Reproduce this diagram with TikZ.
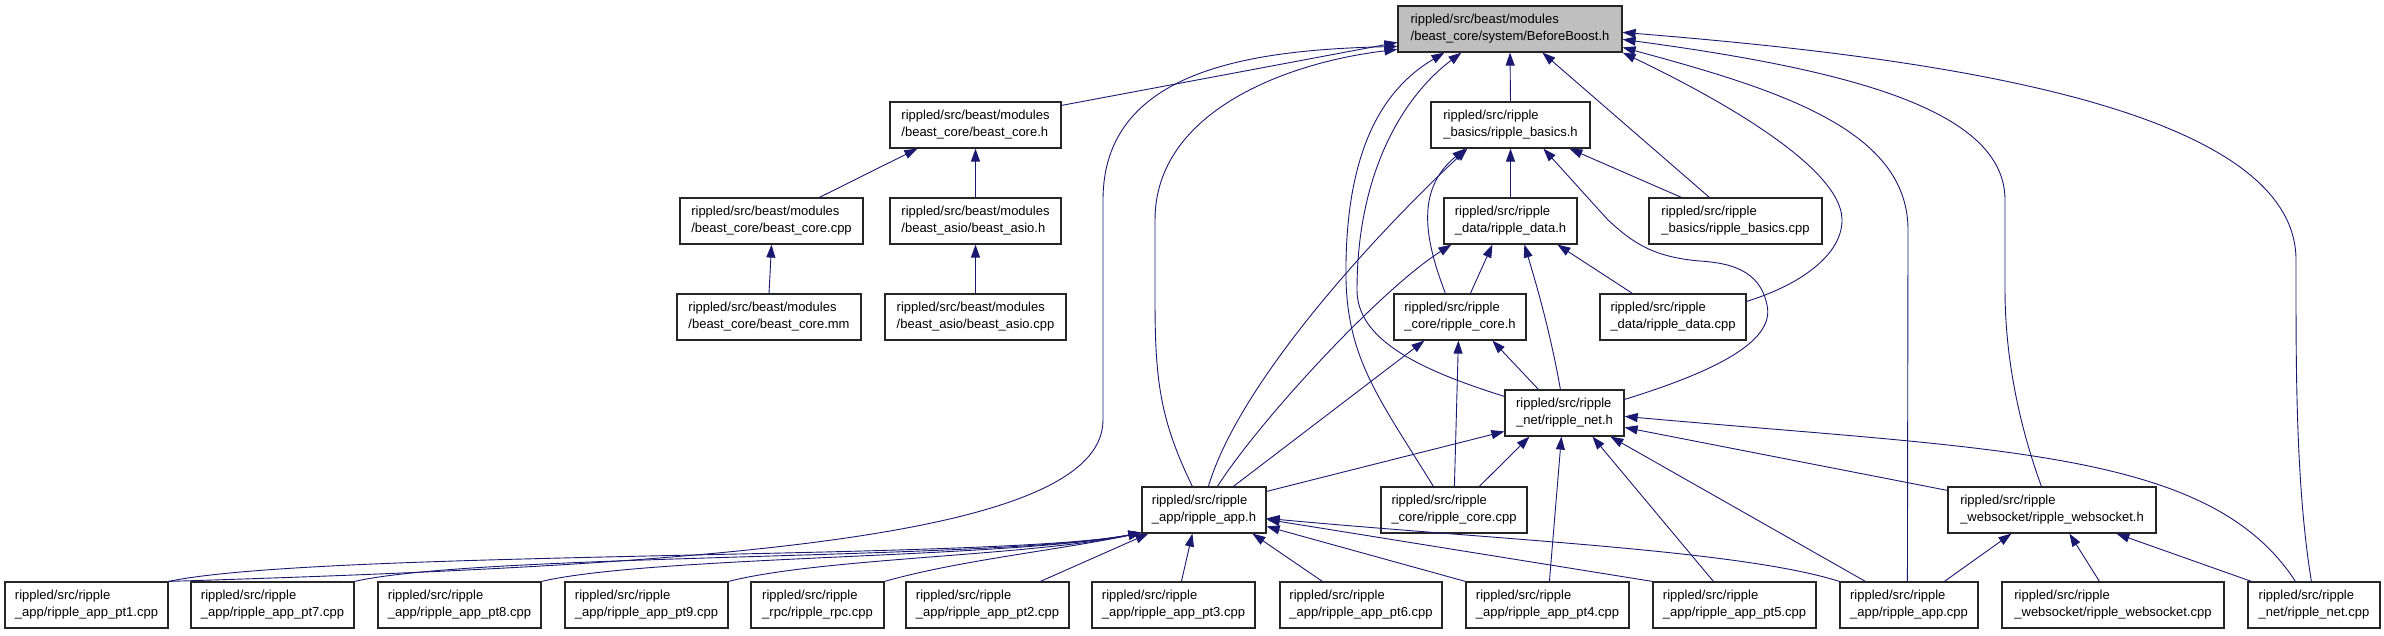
\documentclass[tikz,border=0pt]{standalone}
\usepackage{fontspec}
\setmainfont{Liberation Sans}
\usetikzlibrary{arrows.meta}
\definecolor{edgecol}{HTML}{191970}
\definecolor{bbfill}{HTML}{BFBFBF}
\tikzset{
  nodebox/.style={draw=black!85, line width=1.2pt, fill=white, align=left, inner sep=0pt,
    minimum height=46pt, font=\fontsize{13}{17}\selectfont},
  incl/.style={draw=edgecol, line width=0.9pt, -{Triangle[length=13pt,width=9pt]}}
}
\begin{document}
\begin{tikzpicture}[x=1pt,y=-1pt]
\useasboundingbox (0,0) rectangle (2384,635);
% nodes
\node[nodebox, fill=bbfill, minimum width=224pt] (BB) at (1510,29) {rippled/src/beast/modules\\/beast\_core/system/BeforeBoost.h};
\node[nodebox, minimum width=171pt] (bch) at (975.5,125) {rippled/src/beast/modules\\/beast\_core/beast\_core.h};
\node[nodebox, minimum width=183pt] (bcc) at (771.5,221) {rippled/src/beast/modules\\/beast\_core/beast\_core.cpp};
\node[nodebox, minimum width=171pt] (bah) at (975.5,221) {rippled/src/beast/modules\\/beast\_asio/beast\_asio.h};
\node[nodebox, minimum width=184pt] (bcm) at (769,317) {rippled/src/beast/modules\\/beast\_core/beast\_core.mm};
\node[nodebox, minimum width=181pt] (bac) at (975.5,317) {rippled/src/beast/modules\\/beast\_asio/beast\_asio.cpp};
\node[nodebox, minimum width=159pt] (rbh) at (1510.5,125) {rippled/src/ripple\\\_basics/ripple\_basics.h};
\node[nodebox, minimum width=133pt] (rdh) at (1510.5,221) {rippled/src/ripple\\\_data/ripple\_data.h};
\node[nodebox, minimum width=173pt] (rbc) at (1735.5,221) {rippled/src/ripple\\\_basics/ripple\_basics.cpp};
\node[nodebox, minimum width=132pt] (rch) at (1460,317) {rippled/src/ripple\\\_core/ripple\_core.h};
\node[nodebox, minimum width=146pt] (rdc) at (1673,317) {rippled/src/ripple\\\_data/ripple\_data.cpp};
\node[nodebox, minimum width=119pt] (rnh) at (1564.5,413) {rippled/src/ripple\\\_net/ripple\_net.h};
\node[nodebox, minimum width=124pt] (rah) at (1204,510) {rippled/src/ripple\\\_app/ripple\_app.h};
\node[nodebox, minimum width=146pt] (rcc) at (1454,510) {rippled/src/ripple\\\_core/ripple\_core.cpp};
\node[nodebox, minimum width=208pt] (rwh) at (2052,510) {rippled/src/ripple\\\_websocket/ripple\_websocket.h};
\node[nodebox, minimum width=163pt] (pt1) at (86.5,605) {rippled/src/ripple\\\_app/ripple\_app\_pt1.cpp};
\node[nodebox, minimum width=163pt] (pt7) at (272.5,605) {rippled/src/ripple\\\_app/ripple\_app\_pt7.cpp};
\node[nodebox, minimum width=163pt] (pt8) at (459.5,605) {rippled/src/ripple\\\_app/ripple\_app\_pt8.cpp};
\node[nodebox, minimum width=163pt] (pt9) at (646.5,605) {rippled/src/ripple\\\_app/ripple\_app\_pt9.cpp};
\node[nodebox, minimum width=133pt] (rpc) at (817.5,605) {rippled/src/ripple\\\_rpc/ripple\_rpc.cpp};
\node[nodebox, minimum width=163pt] (pt2) at (987.5,605) {rippled/src/ripple\\\_app/ripple\_app\_pt2.cpp};
\node[nodebox, minimum width=163pt] (pt3) at (1173.5,605) {rippled/src/ripple\\\_app/ripple\_app\_pt3.cpp};
\node[nodebox, minimum width=162pt] (pt6) at (1361,605) {rippled/src/ripple\\\_app/ripple\_app\_pt6.cpp};
\node[nodebox, minimum width=163pt] (pt4) at (1547.5,605) {rippled/src/ripple\\\_app/ripple\_app\_pt4.cpp};
\node[nodebox, minimum width=163pt] (pt5) at (1734.5,605) {rippled/src/ripple\\\_app/ripple\_app\_pt5.cpp};
\node[nodebox, minimum width=138pt] (rac) at (1909,605) {rippled/src/ripple\\\_app/ripple\_app.cpp};
\node[nodebox, minimum width=222pt] (rwc) at (2113,605) {rippled/src/ripple\\\_websocket/ripple\_websocket.cpp};
\node[nodebox, minimum width=132pt] (rnc) at (2314,605) {rippled/src/ripple\\\_net/ripple\_net.cpp};

% edges into BeforeBoost.h
\draw[incl] ([yshift=-4pt]bch.north east) -- ([yshift=-37pt]BB.north west);
\draw[incl] (pt1.north east) .. controls (700,565) and (1103,540) .. (1103,420) -- (1103,200) .. controls (1103,70) and (1250,50) .. ([yshift=-41pt]BB.north west);
\draw[incl] ([xshift=51pt]rah.north west) .. controls (1160,420) and (1155,380) .. (1155,300) -- (1155,220) .. controls (1155,110) and (1290,62) .. ([yshift=-44pt]BB.north west);
\draw[incl] (rbh.north) -- (BB.south);
\draw[incl] ([xshift=61pt]rbc.north west) -- ([xshift=145pt]BB.south west);
\draw[incl] ([yshift=-8pt]rdc.north east) .. controls (1800,285) and (1842,255) .. (1842,220) .. controls (1842,160) and (1680,80) .. (BB.south east);
\draw[incl] ([xshift=68pt]rac.north west) -- (1908,230) .. controls (1908,130) and (1780,90) .. ([yshift=-42pt]BB.north east);
\draw[incl] ([xshift=94pt]rwh.north west) .. controls (2010,400) and (2005,330) .. (2005,290) -- (2005,200) .. controls (2005,110) and (1850,70) .. ([yshift=-34pt]BB.north east);
\draw[incl] ([xshift=64pt]rnc.north west) .. controls (2298,500) and (2296,400) .. (2296,300) -- (2296,260) .. controls (2296,100) and (1900,55) .. ([yshift=-27pt]BB.north east);
\draw[incl] ([xshift=53pt]rcc.north west) .. controls (1380,400) and (1348,360) .. (1346,280) .. controls (1344,140) and (1390,85) .. ([xshift=47pt]BB.south west);
\draw[incl] ([yshift=-7pt]rnh.north west) .. controls (1420,370) and (1357,340) .. (1357,290) .. controls (1357,170) and (1405,95) .. ([xshift=64pt]BB.south west);

% edges into ripple_basics.h
\draw[incl] (rdh.north) -- (rbh.south);
\draw[incl] ([xshift=33pt]rbc.north west) -- ([xshift=139pt]rbh.south west);
\draw[incl] ([yshift=-10pt]rnh.north east) .. controls (1720,370) and (1775,340) .. (1767,305) .. controls (1760,270) and (1730,263) .. (1700,261) .. controls (1650,257) and (1630,240) .. (1608,220) -- ([xshift=113pt]rbh.south west);
\draw[incl] ([xshift=67pt]rah.north west) .. controls (1240,380) and (1380,230) .. ([xshift=37pt]rbh.south west);
\draw[incl] ([xshift=52pt]rch.north west) .. controls (1425,240) and (1415,190) .. ([xshift=35pt]rbh.south west);

% edges into ripple_data.h
\draw[incl] ([xshift=77pt]rch.north west) -- ([xshift=49pt]rdh.south west);
\draw[incl] ([xshift=76pt]rah.north west) .. controls (1260,420) and (1380,290) .. ([xshift=8pt]rdh.south west);
\draw[incl] ([xshift=56pt]rnh.north west) .. controls (1550,330) and (1535,280) .. ([xshift=81pt]rdh.south west);
\draw[incl] ([xshift=33pt]rdc.north west) -- ([xshift=114pt]rdh.south west);

% edges into ripple_core.h
\draw[incl] ([xshift=92pt]rah.north west) -- ([xshift=31pt]rch.south west);
\draw[incl] ([xshift=74pt]rcc.north west) -- ([xshift=65pt]rch.south west);
\draw[incl] ([xshift=34pt]rnh.north west) -- ([xshift=99pt]rch.south west);

% edges into ripple_net.h
\draw[incl] ([yshift=-5pt]rah.north east) -- ([yshift=-42pt]rnh.north west);
\draw[incl] ([xshift=99pt]rcc.north west) -- ([xshift=25pt]rnh.south west);
\draw[incl] ([xshift=84pt]pt4.north west) -- ([xshift=57pt]rnh.south west);
\draw[incl] ([xshift=61pt]pt5.north west) -- ([xshift=88pt]rnh.south west);
\draw[incl] ([xshift=26pt]rac.north west) -- ([xshift=106pt]rnh.south west);
\draw[incl] ([yshift=-4pt]rwh.north west) -- ([yshift=-38pt]rnh.north east);
\draw[incl] ([xshift=48pt]rnc.north west) .. controls (2210,450) and (2000,450) .. ([yshift=-27pt]rnh.north east);

% edges into ripple_websocket.h
\draw[incl] ([xshift=105pt]rac.north west) -- ([xshift=64pt]rwh.south west);
\draw[incl] ([xshift=98pt]rwc.north west) -- ([xshift=122pt]rwh.south west);
\draw[incl] ([xshift=4pt]rnc.north west) -- ([xshift=169pt]rwh.south west);

% edges into ripple_app.h
\draw[incl] (pt1.north east) .. controls (318,550) and (1000,560) .. ([yshift=1pt]rah.south west);
\draw[incl] (pt7.north east) .. controls (480,553) and (1000,560) .. ([yshift=1pt]rah.south west);
\draw[incl] (pt8.north east) .. controls (650,556) and (1010,558) .. ([yshift=1pt]rah.south west);
\draw[incl] (pt9.north east) .. controls (820,558) and (1030,556) .. ([yshift=1pt]rah.south west);
\draw[incl] (rpc.north east) .. controls (960,560) and (1060,550) .. ([yshift=1pt]rah.south west);
\draw[incl] ([xshift=135pt]pt2.north west) -- ([xshift=7pt]rah.south west);
\draw[incl] ([xshift=90pt]pt3.north west) -- ([xshift=51pt]rah.south west);
\draw[incl] ([xshift=43pt]pt6.north west) -- ([xshift=111pt]rah.south west);
\draw[incl] (pt4.north west) -- ([yshift=-40pt]rah.north east);
\draw[incl] (pt5.north west) -- ([yshift=-33pt]rah.north east);
\draw[incl] (rac.north west) .. controls (1740,550) and (1500,540) .. ([yshift=-32pt]rah.north east);

% beast edges
\draw[incl] ([xshift=140pt]bcc.north west) -- ([xshift=28pt]bch.south west);
\draw[incl] (bah.north) -- (bch.south);
\draw[incl] (bcm.north) -- (bcc.south);
\draw[incl] (bac.north) -- (bah.south);
\end{tikzpicture}
\end{document}
